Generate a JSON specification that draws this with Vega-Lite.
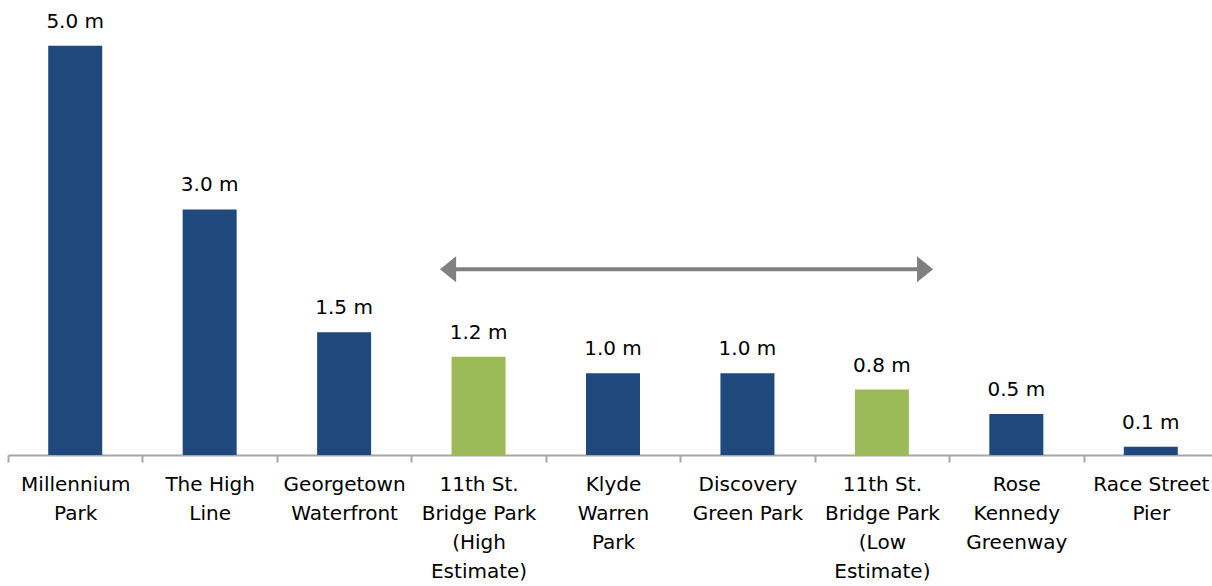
{
  "$schema": "https://vega.github.io/schema/vega-lite/v6.json",
  "width": 1204,
  "height": 455,
  "autosize": {"type": "none"},
  "padding": {"left": 8, "top": 0, "right": 0, "bottom": 131},
  "background": "white",
  "config": {"view": {"stroke": null}, "font": "DejaVu Sans"},
  "datasets": {
    "parks": [
      {"park": "Millennium|Park", "value": 5.0, "label": "5.0 m", "kind": "existing"},
      {"park": "The High|Line", "value": 3.0, "label": "3.0 m", "kind": "existing"},
      {"park": "Georgetown|Waterfront", "value": 1.5, "label": "1.5 m", "kind": "existing"},
      {"park": "11th St.|Bridge Park|(High|Estimate)", "value": 1.2, "label": "1.2 m", "kind": "estimate"},
      {"park": "Klyde|Warren|Park", "value": 1.0, "label": "1.0 m", "kind": "existing"},
      {"park": "Discovery|Green Park", "value": 1.0, "label": "1.0 m", "kind": "existing"},
      {"park": "11th St.|Bridge Park|(Low|Estimate)", "value": 0.8, "label": "0.8 m", "kind": "estimate"},
      {"park": "Rose|Kennedy|Greenway", "value": 0.5, "label": "0.5 m", "kind": "existing"},
      {"park": "Race Street|Pier", "value": 0.1, "label": "0.1 m", "kind": "existing"}
    ],
    "arrowShaft": [{"start": 3.33, "end": 6.77, "level": 2.27}],
    "arrowHeads": [
      {"pos": 3.273, "level": 2.27, "dir": "left"},
      {"pos": 6.821, "level": 2.27, "dir": "right"}
    ]
  },
  "layer": [
    {
      "data": {"name": "parks"},
      "layer": [
        {
          "mark": {"type": "bar", "width": 54},
          "encoding": {
            "x": {
              "field": "park", "type": "nominal", "sort": null,
              "scale": {"range": [0, 1210], "paddingInner": 0, "paddingOuter": 0},
              "axis": {
                "title": null, "labelAngle": 0, "tickBand": "extent",
                "labelExpr": "datum.value ? split(datum.value, '|') : ''",
                "labelFont": "DejaVu Sans", "labelFontSize": 20, "labelColor": "#000000",
                "labelLineHeight": 29, "labelPadding": 12, "labelBaseline": "top",
                "domainColor": "#A6A6A6", "domainWidth": 2,
                "tickColor": "#A6A6A6", "tickWidth": 2, "tickSize": 7,
                "labelOverlap": false, "labelBound": false, "labelFlush": false
              }
            },
            "y": {
              "field": "value", "type": "quantitative",
              "scale": {"domain": [0, 5.56], "nice": false, "zero": true},
              "axis": null
            },
            "color": {
              "field": "kind", "type": "nominal",
              "scale": {"domain": ["existing", "estimate"], "range": ["#1F497D", "#9BBB59"]},
              "legend": null
            }
          }
        },
        {
          "mark": {"type": "text", "baseline": "alphabetic", "dy": -18, "fontSize": 20, "font": "DejaVu Sans", "color": "#000000"},
          "encoding": {
            "x": {"field": "park", "type": "nominal", "sort": null},
            "y": {"field": "value", "type": "quantitative"},
            "text": {"field": "label"}
          }
        }
      ]
    },
    {
      "data": {"name": "arrowShaft"},
      "mark": {"type": "rule", "strokeWidth": 4, "color": "#808080"},
      "encoding": {
        "x": {"field": "start", "type": "quantitative", "scale": {"domain": [0, 9], "range": [0, 1210], "nice": false, "zero": false}, "axis": null},
        "x2": {"field": "end"},
        "y": {"field": "level", "type": "quantitative"}
      }
    },
    {
      "data": {"name": "arrowHeads"},
      "mark": {"type": "point", "filled": true, "opacity": 1, "size": 676, "color": "#808080"},
      "encoding": {
        "x": {"field": "pos", "type": "quantitative", "scale": {"domain": [0, 9], "range": [0, 1210], "nice": false, "zero": false}, "axis": null},
        "y": {"field": "level", "type": "quantitative"},
        "shape": {
          "field": "dir", "type": "nominal",
          "scale": {"domain": ["left", "right"], "range": ["M-0.62,0L0.62,-1L0.62,1Z", "M0.62,0L-0.62,-1L-0.62,1Z"]},
          "legend": null
        }
      }
    }
  ],
  "resolve": {"scale": {"x": "independent"}}
}
